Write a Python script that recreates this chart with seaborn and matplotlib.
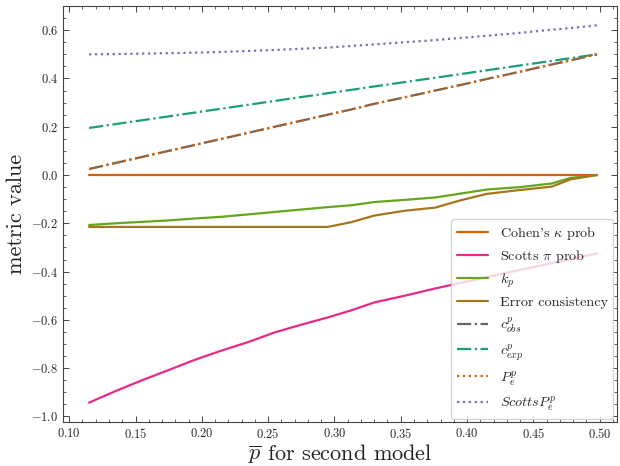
import pandas as pd
import matplotlib
matplotlib.use("Agg")
import matplotlib.pyplot as plt
import seaborn as sns

# p-bar for second model
p_bar = [0.115, 0.135, 0.155, 0.175, 0.195, 0.215, 0.235, 0.255, 0.275, 0.295,
         0.313, 0.330, 0.353, 0.376, 0.395, 0.415, 0.440, 0.464, 0.478, 0.498]

cohen_kappa = [0.0] * 20
scotts_pi = [-0.943, -0.895, -0.850, -0.808, -0.765, -0.727, -0.692, -0.652, -0.620, -0.590,
             -0.560, -0.528, -0.500, -0.470, -0.447, -0.423, -0.393, -0.365, -0.348, -0.325]
k_p = [-0.207, -0.200, -0.194, -0.188, -0.180, -0.173, -0.163, -0.153, -0.143, -0.133,
       -0.125, -0.112, -0.103, -0.093, -0.077, -0.060, -0.050, -0.035, -0.012, 0.0]
error_consistency = [-0.215, -0.215, -0.215, -0.215, -0.215, -0.215, -0.215, -0.215, -0.215, -0.215,
                     -0.195, -0.168, -0.148, -0.135, -0.105, -0.078, -0.062, -0.048, -0.018, 0.0]
c_obs = [0.025, 0.050, 0.075, 0.100, 0.125, 0.150, 0.175, 0.200, 0.225, 0.250,
         0.272, 0.295, 0.322, 0.350, 0.373, 0.398, 0.428, 0.458, 0.475, 0.500]
c_exp = [0.195, 0.211, 0.227, 0.243, 0.259, 0.275, 0.291, 0.307, 0.323, 0.339,
         0.353, 0.367, 0.385, 0.403, 0.418, 0.434, 0.454, 0.473, 0.484, 0.500]
p_e = c_obs
scotts_p_e = [0.500, 0.501, 0.503, 0.505, 0.507, 0.510, 0.514, 0.518, 0.523, 0.528,
              0.535, 0.541, 0.550, 0.559, 0.568, 0.577, 0.589, 0.602, 0.609, 0.620]

series = [
    ("Cohen's $\\kappa$ prob", cohen_kappa, "#d95f02", "-"),
    ("Scotts $\\pi$ prob", scotts_pi, "#e7298a", "-"),
    ("$k_p$", k_p, "#66a61e", "-"),
    ("Error consistency", error_consistency, "#a6761d", "-"),
    ("$c^p_{obs}$", c_obs, "#666666", "-."),
    ("$c^p_{exp}$", c_exp, "#1b9e77", "-."),
    ("$P^p_e$", p_e, "#d95f02", ":"),
    ("$Scotts P^p_e$", scotts_p_e, "#7570b3", ":"),
]

sns.set_style("ticks")
plt.rcParams["font.family"] = "serif"
plt.rcParams["font.serif"] = ["cmr10", "DejaVu Serif"]
plt.rcParams["mathtext.fontset"] = "cm"
plt.rcParams["axes.formatter.use_mathtext"] = True
plt.rcParams["xtick.direction"] = "in"
plt.rcParams["ytick.direction"] = "in"
plt.rcParams["xtick.top"] = True
plt.rcParams["ytick.right"] = True
plt.rcParams["xtick.minor.visible"] = True
plt.rcParams["ytick.minor.visible"] = True

fig, ax = plt.subplots(figsize=(6.2, 4.66), dpi=100)
fig.subplots_adjust(left=0.102, right=0.995, top=0.987, bottom=0.094)

for label, values, color, style in series:
    df = pd.DataFrame({"p": p_bar, "v": values})
    sns.lineplot(data=df, x="p", y="v", ax=ax, color=color, linestyle=style,
                 linewidth=1.6, label=label)

ax.set_xlim(0.0955, 0.513)
ax.set_ylim(-1.024, 0.70)
ax.set_xlabel("$\\overline{p}$ for second model", fontsize=16, labelpad=1)
ax.set_ylabel("metric value", fontsize=16)
ax.tick_params(axis="both", which="major", labelsize=9, length=4, width=0.6)
ax.tick_params(axis="both", which="minor", length=2, width=0.5)
for sp in ax.spines.values():
    sp.set_linewidth(0.8)
    sp.set_color("#444444")

ax.legend(loc="lower right", fontsize=10.2, handlelength=2.2, framealpha=0.8,
          edgecolor="#cccccc", fancybox=True, borderaxespad=0.25,
          labelspacing=0.45)

plt.savefig("out.png", dpi=100)
